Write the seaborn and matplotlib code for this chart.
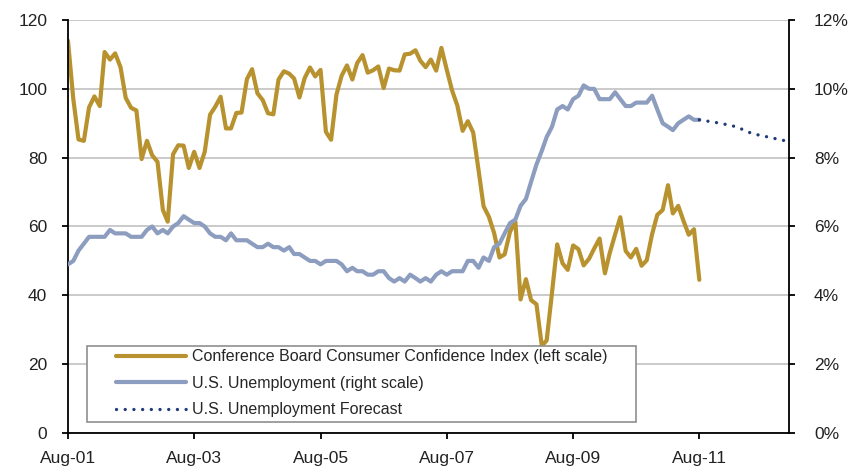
import pandas as pd
import numpy as np
import seaborn as sns
import matplotlib.pyplot as plt
import matplotlib.dates as mdates
from matplotlib.patches import Rectangle
from matplotlib.ticker import FuncFormatter

# monthly observations, Aug-2001 .. Aug-2011
start_month = "2001-08-01"
end_month = "2011-08-01"

confidence = [
    114.0, 97.0, 85.3, 84.9, 94.6,
    97.8, 95.0, 110.7, 108.5, 110.3, 106.3, 97.4, 94.5, 93.7, 79.6, 84.9, 80.7,
    78.8, 64.8, 61.4, 81.0, 83.6, 83.5, 77.0, 81.7, 77.0, 81.7, 92.5, 94.8,
    97.7, 88.5, 88.5, 93.0, 93.1, 102.8, 105.7, 98.7, 96.7, 92.9, 92.6, 102.7,
    105.1, 104.4, 103.0, 97.5, 103.1, 106.2, 103.6, 105.5, 87.5, 85.2, 98.3, 103.8,
    106.8, 102.7, 107.5, 109.8, 104.7, 105.4, 106.5, 100.2, 105.9, 105.4, 105.3, 110.0,
    110.2, 111.2, 108.2, 106.3, 108.5, 105.3, 111.9, 105.6, 99.5, 95.2, 87.8, 90.6,
    87.3, 76.4, 65.9, 62.8, 58.1, 51.0, 51.9, 58.5, 61.4, 38.8, 44.7, 38.6,
    37.4, 25.3, 26.9, 40.8, 54.8, 49.3, 47.4, 54.5, 53.4, 48.7, 50.6, 53.6,
    56.5, 46.4, 52.3, 57.7, 62.7, 52.9, 51.0, 53.5, 48.6, 50.2, 57.8, 63.4,
    64.8, 72.0, 63.8, 66.0, 61.7, 57.6, 59.2, 44.5,
]

unemployment = [
    4.9, 5.0, 5.3, 5.5, 5.7,
    5.7, 5.7, 5.7, 5.9, 5.8, 5.8, 5.8, 5.7, 5.7, 5.7, 5.9, 6.0,
    5.8, 5.9, 5.8, 6.0, 6.1, 6.3, 6.2, 6.1, 6.1, 6.0, 5.8, 5.7,
    5.7, 5.6, 5.8, 5.6, 5.6, 5.6, 5.5, 5.4, 5.4, 5.5, 5.4, 5.4,
    5.3, 5.4, 5.2, 5.2, 5.1, 5.0, 5.0, 4.9, 5.0, 5.0, 5.0, 4.9,
    4.7, 4.8, 4.7, 4.7, 4.6, 4.6, 4.7, 4.7, 4.5, 4.4, 4.5, 4.4,
    4.6, 4.5, 4.4, 4.5, 4.4, 4.6, 4.7, 4.6, 4.7, 4.7, 4.7, 5.0,
    5.0, 4.8, 5.1, 5.0, 5.4, 5.5, 5.8, 6.1, 6.2, 6.6, 6.8, 7.3,
    7.8, 8.2, 8.6, 8.9, 9.4, 9.5, 9.4, 9.7, 9.8, 10.1, 10.0, 10.0,
    9.7, 9.7, 9.7, 9.9, 9.7, 9.5, 9.5, 9.6, 9.6, 9.6, 9.8, 9.4,
    9.0, 8.9, 8.8, 9.0, 9.1, 9.2, 9.1, 9.1,
]

forecast_dates = ["2011-08-01", "2011-12-01", "2012-03-01", "2012-06-01", "2012-09-01", "2012-12-01"]
forecast_values = [9.1, 9.0, 8.9, 8.7, 8.6, 8.5]

tick_dates = ["2001-08-01", "2003-08-01", "2005-08-01", "2007-08-01", "2009-08-01", "2011-08-01"]

labels = [
    "Conference Board Consumer Confidence Index (left scale)",
    "U.S. Unemployment (right scale)",
    "U.S. Unemployment Forecast",
]

gold = "#B8922E"
steel = "#8C9DBF"
navy = "#1F3C78"

months = pd.date_range(start_month, end_month, freq="MS")
df = pd.DataFrame({"date": months, "cci": confidence, "unemp": unemployment})
fc = pd.DataFrame({"date": pd.to_datetime(forecast_dates), "unemp": forecast_values})

sns.set_theme(style="white")
plt.rcParams["font.family"] = ["Liberation Sans", "DejaVu Sans"]

fig = plt.figure(figsize=(8.57, 4.73), dpi=100)
ax = fig.add_axes([0.0793, 0.0846, 0.8414, 0.8731])
ax2 = ax.twinx()

sns.lineplot(data=df, x="date", y="cci", ax=ax, color=gold, linewidth=3.0,
             label=labels[0], legend=False)
sns.lineplot(data=df, x="date", y="unemp", ax=ax2, color=steel, linewidth=3.0,
             label=labels[1], legend=False)
sns.lineplot(data=fc, x="date", y="unemp", ax=ax2, color=navy, linewidth=2.4,
             label=labels[2], legend=False)
ax2.lines[-1].set_linestyle((0, (0.01, 2.6)))
ax2.lines[-1].set_dash_capstyle("round")

ax.set_xlim(pd.Timestamp("2001-08-01"), pd.Timestamp("2013-01-01"))
ax.set_ylim(0, 120)
ax2.set_ylim(0, 12)
ax.set_yticks(np.arange(0, 121, 20))
ax2.set_yticks(np.arange(0, 13, 2))
ax2.yaxis.set_major_formatter(FuncFormatter(lambda v, p: f"{v:.0f}%"))
ax.set_xticks(pd.to_datetime(tick_dates))
ax.xaxis.set_major_formatter(mdates.DateFormatter("%b-%y"))

ax.grid(axis="y", color="#C6C6C6", linewidth=1.3)
ax.set_axisbelow(True)
ax2.grid(False)
for a in (ax, ax2):
    a.set_xlabel("")
    a.set_ylabel("")
    a.spines["top"].set_visible(False)
    for s in ("left", "right", "bottom"):
        a.spines[s].set_color("black")
        a.spines[s].set_linewidth(1.3)
ax.spines["right"].set_visible(False)
ax2.spines["left"].set_visible(False)
ax2.spines["bottom"].set_visible(False)

ax.tick_params(axis="y", left=True, length=4, width=1.3, color="black",
               labelsize=12.5, labelcolor="#222222", pad=11)
ax.tick_params(axis="x", bottom=True, length=4, width=1.3, color="black",
               labelsize=12.5, labelcolor="#222222", pad=9)
ax2.tick_params(axis="y", right=True, length=4, width=1.3, color="black",
                labelsize=12.5, labelcolor="#222222", pad=14)

# legend box drawn by hand so the padding matches
box = Rectangle((0.0264, 0.0274), 0.761, 0.183, transform=ax2.transAxes,
                facecolor="white", edgecolor="#8F8F8F", linewidth=1.2, zorder=5)
ax2.add_patch(box)
handles = ax.lines[:1] + ax2.lines[:2]
leg = ax2.legend(handles, labels, loc="upper left", bbox_to_anchor=(0.0666, 0.203),
                 frameon=False, fontsize=11.5, handlelength=4.4, handletextpad=0.38,
                 labelspacing=0.73, borderpad=0, borderaxespad=0)
leg.set_zorder(6)

fig.savefig("out.png", dpi=100)
